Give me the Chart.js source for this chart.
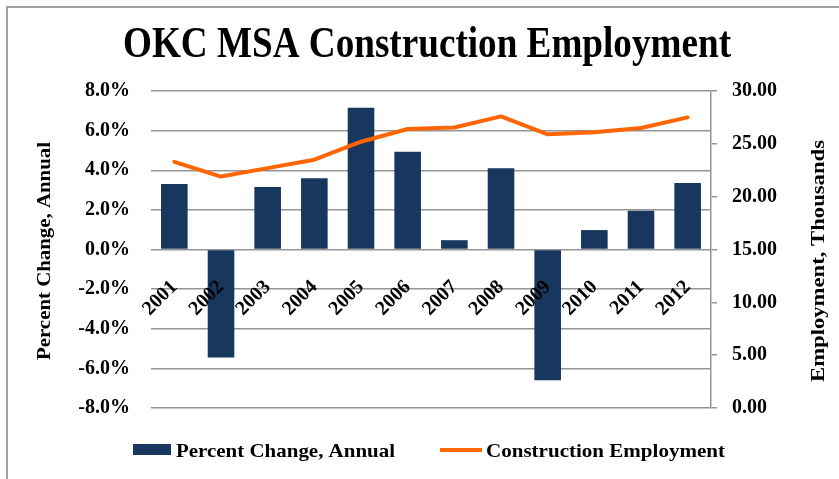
<!DOCTYPE html>
<html><head><meta charset="utf-8">
<script src="https://cdn.jsdelivr.net/npm/chart.js@4.4.1/dist/chart.umd.min.js"></script>
<style>html,body{margin:0;padding:0;background:#fff}#wrap{width:839px;height:479px;position:relative}</style>
</head><body><div id="wrap"><canvas id="c" width="839" height="479"></canvas></div>
<script>
const titleText = 'OKC MSA Construction Employment';
const years = ['2001','2002','2003','2004','2005','2006','2007','2008','2009','2010','2011','2012'];
const pctChange = [3.3, -5.45, 3.15, 3.6, 7.15, 4.93, 0.47, 4.1, -6.6, 0.98, 1.96, 3.36];
const employment = [23.3, 21.9, 22.7, 23.5, 25.2, 26.4, 26.55, 27.6, 25.9, 26.1, 26.5, 27.5];
const pctTicks = [-8, -6, -4, -2, 0, 2, 4, 6, 8];
const empTicks = [0, 5, 10, 15, 20, 25, 30];
const barLabel = 'Percent Change, Annual';
const lineLabel = 'Construction Employment';
const leftTitle = 'Percent Change, Annual';
const rightTitle = 'Employment, Thousands';

const FAM = '"Liberation Serif", "DejaVu Serif", serif';
const NAVY = '#17375E';
const ORANGE = '#FF6600';
const GRID = '#959595';

Chart.defaults.font.family = FAM;
Chart.defaults.color = '#000';

function fitText(ctx, text, x, y, width, font, rot) {
  ctx.save();
  ctx.font = font;
  const w = ctx.measureText(text).width;
  const sx = width / w;
  ctx.translate(x, y);
  if (rot) ctx.rotate(rot);
  ctx.scale(sx, 1);
  ctx.textAlign = 'left';
  ctx.textBaseline = 'alphabetic';
  ctx.fillStyle = '#000';
  ctx.fillText(text, 0, 0);
  ctx.restore();
}

const decor = {
  id: 'decor',
  beforeDraw(chart) {
    const ctx = chart.ctx;
    ctx.save();
    ctx.fillStyle = '#fff';
    ctx.fillRect(0, 0, chart.width, chart.height);
    ctx.strokeStyle = '#a0a0a0';
    ctx.lineWidth = 2;
    ctx.beginPath();
    ctx.moveTo(7, chart.height + 2);
    ctx.lineTo(7, 7);
    ctx.lineTo(chart.width + 2, 7);
    ctx.stroke();
    ctx.restore();
  },
  afterDraw(chart) {
    const ctx = chart.ctx;
    fitText(ctx, titleText, 123, 57, 608, 'bold 44px ' + FAM);
    // axis titles (both read bottom-to-top)
    fitText(ctx, leftTitle, 50, 360, 218, 'bold 18px ' + FAM, -Math.PI / 2);
    fitText(ctx, rightTitle, 824, 382, 242, 'bold 18px ' + FAM, -Math.PI / 2);
    // legend
    ctx.save();
    ctx.fillStyle = NAVY;
    ctx.fillRect(133, 444, 38, 11);
    ctx.strokeStyle = ORANGE;
    ctx.lineWidth = 4;
    ctx.beginPath();
    ctx.moveTo(440, 450);
    ctx.lineTo(482, 450);
    ctx.stroke();
    ctx.restore();
    fitText(ctx, barLabel, 176, 457, 219, 'bold 19px ' + FAM);
    fitText(ctx, lineLabel, 486, 457, 239, 'bold 19px ' + FAM);
  }
};

const tickFont = {size: 20, weight: 'bold', family: FAM};

new Chart(document.getElementById('c'), {
  type: 'bar',
  data: {
    labels: years,
    datasets: [
      {type: 'line', label: lineLabel, data: employment, yAxisID: 'y1', borderColor: ORANGE, backgroundColor: ORANGE,
       borderWidth: 4, pointRadius: 0, tension: 0, order: 0, borderCapStyle: 'round', borderJoinStyle: 'round'},
      {type: 'bar', label: barLabel, data: pctChange, yAxisID: 'y', backgroundColor: NAVY, borderWidth: 0,
       barPercentage: 0.57, categoryPercentage: 1, order: 1}
    ]
  },
  options: {
    responsive: false,
    animation: false,
    layout: {padding: {top: 91, bottom: 71, left: 0, right: 0}},
    plugins: {legend: {display: false}, title: {display: false}, tooltip: {enabled: false}},
    scales: {
      x: {
        position: {y: 0},
        grid: {display: false, drawTicks: false},
        border: {display: false},
        ticks: {z: 1, minRotation: 45, maxRotation: 45, autoSkip: false, padding: 26, font: tickFont, color: '#000'}
      },
      y: {
        position: 'left', min: -8, max: 8,
        afterBuildTicks: s => { s.ticks = pctTicks.map(v => ({value: v})); },
        afterFit: s => { s.width = 151; },
        ticks: {callback: v => v.toFixed(1) + '%', padding: 21, font: tickFont, color: '#000'},
        grid: {color: GRID, lineWidth: 1.5, drawTicks: false},
        border: {display: false}
      },
      y1: {
        position: 'right', min: 0, max: 30,
        afterBuildTicks: s => { s.ticks = empTicks.map(v => ({value: v})); },
        afterFit: s => { s.width = 128; },
        ticks: {callback: v => v.toFixed(2), padding: 15, font: tickFont, color: '#000'},
        grid: {drawOnChartArea: false, drawTicks: true, tickLength: 6, color: GRID, lineWidth: 1.5},
        border: {display: true, color: GRID, width: 1.5}
      }
    }
  },
  plugins: [decor]
});
</script>
</body></html>
